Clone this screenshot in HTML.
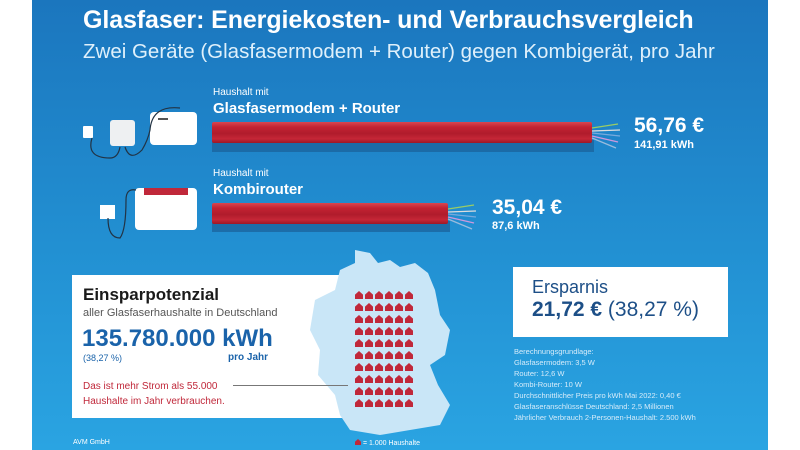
<!DOCTYPE html>
<html><head><meta charset="utf-8"><style>
*{margin:0;padding:0;box-sizing:border-box}
body{width:800px;height:450px;background:#fff;position:relative;overflow:hidden;font-family:"Liberation Sans","DejaVu Sans",sans-serif}
#bg{position:absolute;left:32px;top:0;width:736px;height:450px;background:linear-gradient(#1b76be,#2290d2 55%,#2aa4e2)}
.t{position:absolute;white-space:nowrap}
.w{color:#fff}
.cable{position:absolute;background:linear-gradient(#d84650 0,#c22232 25%,#b01c2c 55%,#c52737 80%,#9d1726 100%);border-radius:2px}
.sh{position:absolute;background:#1a5f98;opacity:.7}
.house{display:inline-block;width:8px;height:8px;margin:0 2px 4px 0;background:#c0283a;clip-path:polygon(50% 0,100% 45%,100% 100%,0 100%,0 45%)}
</style></head><body>
<div id="bg"></div>
<div class="t w" style="left:83px;top:6px;font-size:25px;font-weight:bold;letter-spacing:-0.1px">Glasfaser: Energiekosten- und Verbrauchsvergleich</div>
<div class="t" style="left:83px;top:40px;font-size:20.5px;color:#dff0fb">Zwei Geräte (Glasfasermodem + Router) gegen Kombigerät, pro Jahr</div>

<!-- devices 1 -->
<div style="position:absolute;left:83px;top:126px;width:10px;height:12px;background:#fff;border-radius:1px"></div>
<div style="position:absolute;left:110px;top:120px;width:25px;height:26px;background:#eef0f2;border-radius:3px"></div>
<div style="position:absolute;left:150px;top:112px;width:47px;height:33px;background:#fff;border-radius:4px"></div>
<div style="position:absolute;left:158px;top:118px;width:10px;height:2px;background:#555"></div>
<svg style="position:absolute;left:80px;top:100px" width="140" height="70"><path d="M12 38 Q6 58 30 58 Q38 58 40 47 M45 47 Q50 62 62 50 Q68 40 70 30 Q72 5 100 8" fill="none" stroke="#234" stroke-width="1.2"/></svg>
<!-- cable 1 -->
<div class="sh" style="left:212px;top:140px;width:382px;height:12px"></div>
<div class="cable" style="left:212px;top:122px;width:380px;height:21px"></div>
<svg style="position:absolute;left:590px;top:118px" width="35" height="35"><g stroke-width="1.3" fill="none"><path d="M2 10 L28 6" stroke="#9c6"/><path d="M2 13 L30 12" stroke="#ddd"/><path d="M2 15 L30 18" stroke="#7ad"/><path d="M2 18 L28 24" stroke="#c9d"/><path d="M2 20 L26 30" stroke="#9bd"/></g></svg>
<div class="t w" style="left:213px;top:87px;font-size:10px">Haushalt mit</div>
<div class="t w" style="left:213px;top:100px;font-size:15px;font-weight:bold">Glasfasermodem + Router</div>
<div class="t w" style="left:634px;top:114px;font-size:21px;font-weight:bold">56,76 €</div>
<div class="t w" style="left:634px;top:139px;font-size:11px;font-weight:bold">141,91 kWh</div>

<!-- devices 2 -->
<div style="position:absolute;left:100px;top:205px;width:15px;height:14px;background:#fff"></div>
<div style="position:absolute;left:135px;top:188px;width:62px;height:42px;background:#fff;border-radius:4px;overflow:hidden"><div style="margin:0 9px;height:7px;background:#c0283a"></div></div>
<svg style="position:absolute;left:100px;top:180px" width="40" height="70"><path d="M8 38 Q8 58 20 58 Q26 50 26 20 Q26 8 36 10" fill="none" stroke="#234" stroke-width="1.2"/></svg>
<div class="sh" style="left:212px;top:221px;width:238px;height:11px"></div>
<div class="cable" style="left:212px;top:203px;width:236px;height:21px"></div>
<svg style="position:absolute;left:446px;top:199px" width="35" height="35"><g stroke-width="1.3" fill="none"><path d="M2 10 L28 6" stroke="#9c6"/><path d="M2 13 L30 12" stroke="#ddd"/><path d="M2 15 L30 18" stroke="#7ad"/><path d="M2 18 L28 24" stroke="#c9d"/><path d="M2 20 L26 30" stroke="#9bd"/></g></svg>
<div class="t w" style="left:213px;top:168px;font-size:10px">Haushalt mit</div>
<div class="t w" style="left:213px;top:181px;font-size:15px;font-weight:bold">Kombirouter</div>
<div class="t w" style="left:492px;top:196px;font-size:21px;font-weight:bold">35,04 €</div>
<div class="t w" style="left:492px;top:220px;font-size:11px;font-weight:bold">87,6 kWh</div>

<!-- Einspar box -->
<div style="position:absolute;left:72px;top:275px;width:280px;height:143px;background:#fff"></div>
<svg style="position:absolute;left:300px;top:245px" width="160" height="195"><path d="M55 5 L70 8 L78 18 L90 15 L100 22 L115 18 L128 28 L135 45 L140 70 L150 85 L145 110 L130 120 L138 140 L150 160 L140 180 L110 185 L80 190 L50 185 L40 170 L35 150 L18 130 L20 105 L10 85 L15 55 L35 45 L40 25 L55 18 Z" fill="#c9e6f7"/></svg>
<div style="position:absolute;left:355px;top:291px;width:61px;line-height:0">
<span class="house"></span><span class="house"></span><span class="house"></span><span class="house"></span><span class="house"></span><span class="house"></span><span class="house"></span><span class="house"></span><span class="house"></span><span class="house"></span><span class="house"></span><span class="house"></span><span class="house"></span><span class="house"></span><span class="house"></span><span class="house"></span><span class="house"></span><span class="house"></span><span class="house"></span><span class="house"></span><span class="house"></span><span class="house"></span><span class="house"></span><span class="house"></span><span class="house"></span><span class="house"></span><span class="house"></span><span class="house"></span><span class="house"></span><span class="house"></span><span class="house"></span><span class="house"></span><span class="house"></span><span class="house"></span><span class="house"></span><span class="house"></span><span class="house"></span><span class="house"></span><span class="house"></span><span class="house"></span><span class="house"></span><span class="house"></span><span class="house"></span><span class="house"></span><span class="house"></span><span class="house"></span><span class="house"></span><span class="house"></span><span class="house"></span><span class="house"></span><span class="house"></span><span class="house"></span><span class="house"></span><span class="house"></span><span class="house"></span><span class="house"></span><span class="house"></span><span class="house"></span><span class="house"></span><span class="house"></span>
</div>
<div class="t" style="left:83px;top:285px;font-size:17px;font-weight:bold;color:#1a1a1a">Einsparpotenzial</div>
<div class="t" style="left:83px;top:307px;font-size:11px;color:#555">aller Glasfaserhaushalte in Deutschland</div>
<div class="t" style="left:82px;top:325px;font-size:24px;font-weight:bold;color:#1a63aa">135.780.000 kWh</div>
<div class="t" style="left:83px;top:353px;font-size:9px;color:#1a63aa">(38,27 %)</div>
<div class="t" style="left:228px;top:352px;font-size:10px;color:#1a63aa;font-weight:bold">pro Jahr</div>
<div class="t" style="left:83px;top:379px;font-size:10px;color:#c0283a;line-height:15px">Das ist mehr Strom als 55.000<br>Haushalte im Jahr verbrauchen.</div>
<div style="position:absolute;left:233px;top:385px;width:115px;height:1px;background:#777"></div>
<div class="t w" style="left:73px;top:439px;font-size:7px">AVM GmbH</div>
<div class="t w" style="left:355px;top:439px;font-size:7px"><span class="house" style="width:6px;height:6px;margin:0"></span> = 1.000 Haushalte</div>

<!-- Ersparnis -->
<div style="position:absolute;left:513px;top:267px;width:215px;height:70px;background:#fff"></div>
<div class="t" style="left:532px;top:277px;font-size:18px;color:#1d4f87">Ersparnis</div>
<div class="t" style="left:532px;top:298px;font-size:21px;color:#1d4f87"><b>21,72 €</b> (38,27 %)</div>
<div class="t" style="left:514px;top:346px;font-size:7.5px;color:#d6ecfa;line-height:11px">Berechnungsgrundlage:<br>Glasfasermodem: 3,5 W<br>Router: 12,6 W<br>Kombi-Router: 10 W<br>Durchschnittlicher Preis pro kWh Mai 2022: 0,40 €<br>Glasfaseranschlüsse Deutschland: 2,5 Millionen<br>Jährlicher Verbrauch 2-Personen-Haushalt: 2.500 kWh</div>
</body></html>
